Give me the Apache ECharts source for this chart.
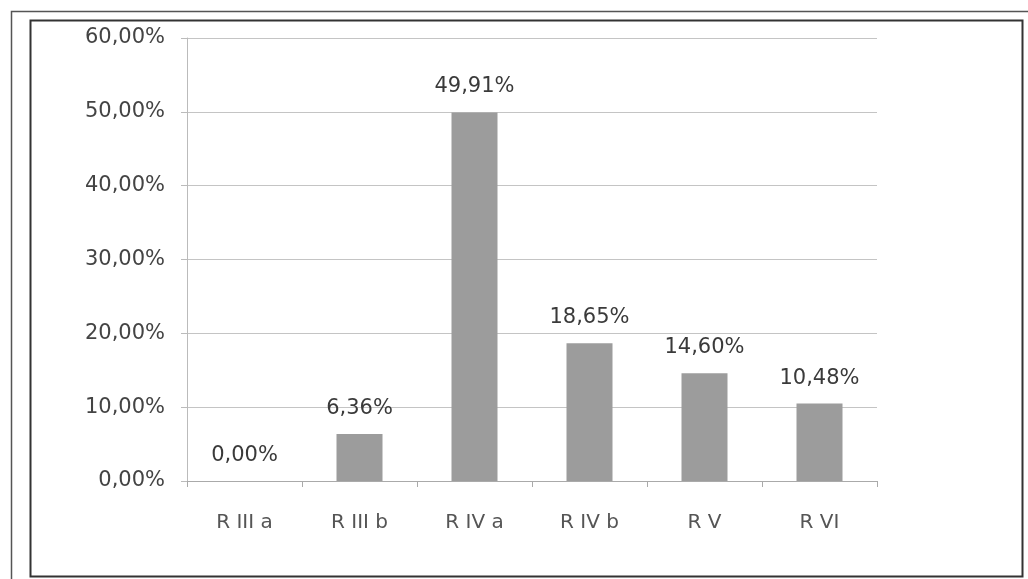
<!DOCTYPE html>
<html>
<head>
<meta charset="utf-8">
<script src="https://cdn.jsdelivr.net/npm/echarts@6/dist/echarts.min.js"></script>
<style>
html,body{margin:0;padding:0;background:#fff;}
#c{width:1028px;height:579px;}
</style>
</head>
<body>
<div id="c"></div>
<script>
const categories = ["R III a", "R III b", "R IV a", "R IV b", "R V", "R VI"];
const values = [0.00, 6.36, 49.91, 18.65, 14.60, 10.48];
const yTicks = [0, 10, 20, 30, 40, 50, 60];

const fmt = v => v.toFixed(2).replace('.', ',') + '%';
const chart = echarts.init(document.getElementById('c'));
chart.setOption({
  animation: false,
  backgroundColor: '#ffffff',
  graphic: [
    { type: 'rect', shape: { x: 11.5, y: 11.5, width: 1020, height: 570 }, style: { fill: 'none', stroke: '#555', lineWidth: 1.5 } },
    { type: 'rect', shape: { x: 30.5, y: 20.5, width: 992, height: 556 }, style: { fill: 'none', stroke: '#333', lineWidth: 2 } }
  ],
  grid: { left: 187, right: 151, top: 38, bottom: 98, containLabel: false },
  xAxis: {
    type: 'category',
    data: categories,
    axisLine: { lineStyle: { color: '#aaa', width: 1 } },
    axisTick: { show: true, alignWithLabel: false, length: 6, lineStyle: { color: '#aaa' } },
    axisLabel: { color: '#555', fontFamily: 'DejaVu Sans', fontSize: 20, margin: 32 }
  },
  yAxis: {
    type: 'value',
    min: yTicks[0],
    max: yTicks[yTicks.length - 1],
    interval: 10,
    axisLine: { show: true, lineStyle: { color: '#bbb' } },
    axisTick: { show: true, length: 6, lineStyle: { color: '#bbb' } },
    splitLine: { lineStyle: { color: '#c4c4c4', width: 1 } },
    axisLabel: { color: '#444', fontFamily: 'DejaVu Sans', fontSize: 21, margin: 22, formatter: fmt }
  },
  series: [{
    type: 'bar',
    data: values,
    barWidth: '40%',
    itemStyle: { color: '#9c9c9c' },
    label: {
      show: true,
      position: 'top',
      distance: 15,
      color: '#3a3a3a',
      fontFamily: 'DejaVu Sans',
      fontSize: 21,
      formatter: p => fmt(p.value)
    }
  }]
});
</script>
</body>
</html>
